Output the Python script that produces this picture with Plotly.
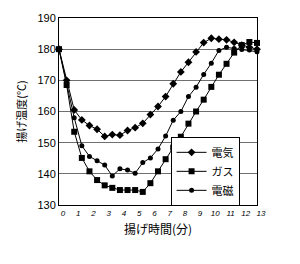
import plotly.graph_objects as go

minutes = [i * 0.5 for i in range(27)]

denki = [180, 170, 160.5, 157.3, 155.5, 154.3, 152.0, 152.6, 152.4, 153.9,
         154.8, 156.2, 159.0, 161.6, 164.8, 168.9, 172.7, 175.8, 179.1, 182.1,
         183.5, 183.2, 183.0, 182.2, 181.3, 180.6, 180.0]
gas = [180, 168.5, 153.5, 145.1, 140.8, 138.0, 136.3, 135.5, 134.8, 134.8,
       134.8, 134.2, 137.0, 140.8, 144.7, 148.4, 151.9, 156.1, 160.0, 163.8,
       167.9, 171.8, 175.3, 178.9, 181.3, 182.3, 182.0]
denji = [180, 169, 158.0, 149.0, 145.6, 144.2, 142.8, 139.3, 141.6, 141.2,
         140.2, 143.6, 145.1, 148.0, 152.1, 157.2, 160.0, 164.8, 167.8, 171.9,
         175.5, 179.6, 180.6, 180.2, 179.9, 179.7, 179.2]

series_names = ["電気", "ガス", "電磁"]
x_ticks = list(range(14))
y_ticks = [130, 140, 150, 160, 170, 180, 190]

jp = "Noto Sans CJK JP"
num = "Liberation Sans, Arial"

fig = go.Figure()
for name, vals, sym, sz in [(series_names[0], denki, "diamond", 6),
                            (series_names[1], gas, "square", 6),
                            (series_names[2], denji, "circle", 5)]:
    fig.add_trace(go.Scatter(
        x=minutes, y=vals, name=name, mode="lines+markers",
        line=dict(color="black", width=1),
        marker=dict(symbol=sym, size=sz, color="black"),
        cliponaxis=False,
    ))

fig.update_layout(
    width=300, height=264,
    margin=dict(l=59, r=43, t=15, b=59),
    paper_bgcolor="white", plot_bgcolor="white",
    font=dict(family=jp, color="black"),
    legend=dict(
        x=0.912, y=0.18, xanchor="right", yanchor="middle",
        bgcolor="white", bordercolor="black", borderwidth=1,
        font=dict(family=jp, size=11, color="black"),
        tracegroupgap=0, itemwidth=30, itemsizing="trace",
    ),
    showlegend=True,
)
fig.update_xaxes(
    range=[0, 13], tickvals=x_ticks, ticktext=[str(t) for t in x_ticks],
    tickfont=dict(family=num, size=8, style="italic", color="black"),
    showgrid=False, showline=True, linecolor="black", linewidth=1,
    mirror=True, ticks="", ticklabelshift=4, zeroline=False,
    title=dict(text="揚げ時間(分)", font=dict(family=jp, size=12), standoff=9),
)
fig.update_yaxes(
    range=[130, 190], tickvals=y_ticks,
    tickfont=dict(family=num, size=11, color="black"),
    showgrid=True, gridcolor="#707070", gridwidth=1,
    showline=True, linecolor="black", linewidth=1, mirror=True,
    ticks="", zeroline=False,
    title=dict(text="揚げ温度(℃)", font=dict(family=jp, size=11), standoff=8),
)

fig.write_html("out.html")
